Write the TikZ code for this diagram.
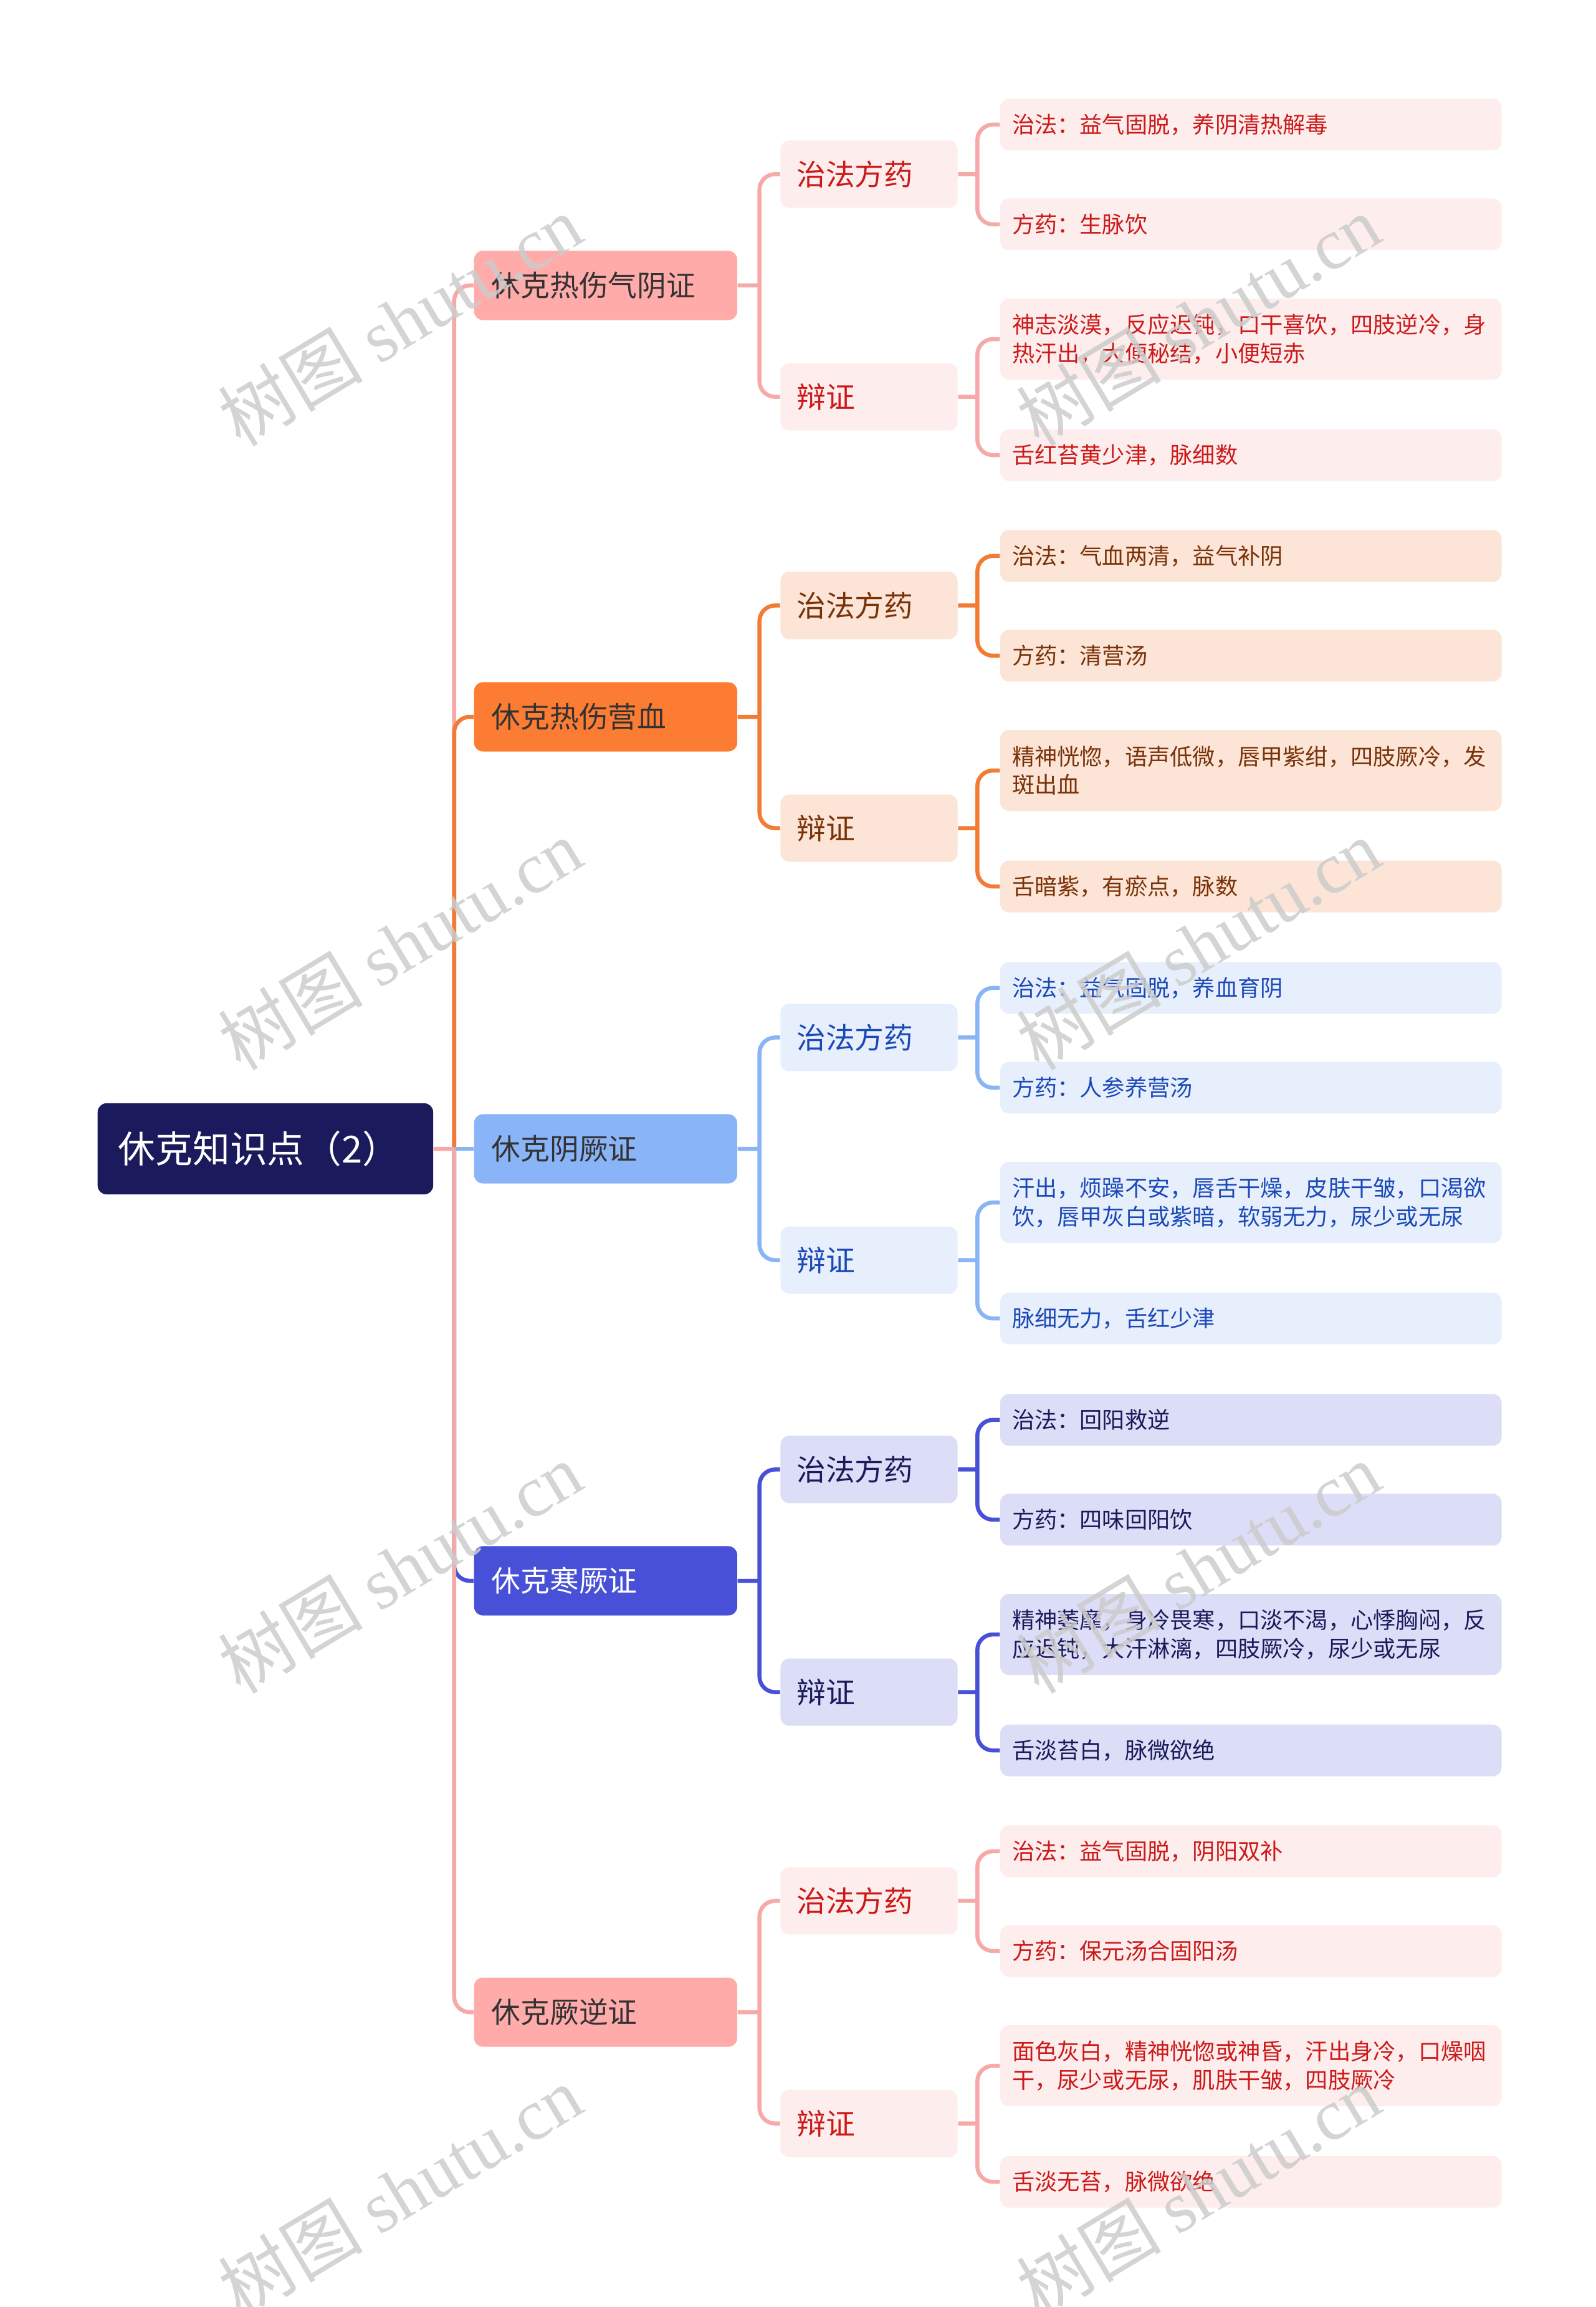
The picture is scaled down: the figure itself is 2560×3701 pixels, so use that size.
\documentclass[tikz,border=0pt]{standalone}
\usepackage{fontspec}
\setmainfont{Noto Sans CJK SC}
\newfontfamily\wmfont{Liberation Serif}
\usetikzlibrary{positioning}

\definecolor{rootfill}{HTML}{1B1A5C}
\definecolor{darktext}{HTML}{333333}
\definecolor{pinkmain}{HTML}{FFABA9}
\definecolor{pinklite}{HTML}{FDEDEC}
\definecolor{pinktext}{HTML}{CC1A1A}
\definecolor{pinkrule}{HTML}{F6AAA8}
\definecolor{orangemain}{HTML}{FD7C33}
\definecolor{orangelite}{HTML}{FCE4D6}
\definecolor{orangetext}{HTML}{7A3208}
\definecolor{orangerule}{HTML}{F27B36}
\definecolor{bluemain}{HTML}{8AB4F8}
\definecolor{bluelite}{HTML}{E8EFFC}
\definecolor{bluetext}{HTML}{1A49B8}
\definecolor{bluerule}{HTML}{8AB4F4}
\definecolor{indigomain}{HTML}{4750D6}
\definecolor{indigolite}{HTML}{DCDDF6}
\definecolor{indigotext}{HTML}{1B1B5C}
\definecolor{indigorule}{HTML}{4750D6}

\begin{document}
\begin{tikzpicture}[
    x=0.01cm, y=-0.01cm,
    topic/.style={rectangle, rounded corners=0.14cm, fill=rootfill, text=white,
                  minimum width=5.38cm, minimum height=1.46cm, text width=4.72cm,
                  inner xsep=0.33cm, inner ysep=0pt, align=left, anchor=west,
                  font=\fontsize{17}{20}\selectfont},
    branch/.style={rectangle, rounded corners=0.14cm, text=darktext,
                   minimum width=4.22cm, minimum height=1.11cm, text width=3.66cm,
                   inner xsep=0.28cm, inner ysep=0pt, align=left, anchor=west,
                   font=\fontsize{13.3}{16}\selectfont},
    sub/.style={rectangle, rounded corners=0.14cm,
                minimum width=2.84cm, minimum height=1.08cm, text width=2.32cm,
                inner xsep=0.26cm, inner ysep=0pt, align=left,
                font=\fontsize{13.3}{16}\selectfont},
    leaf/.style={rectangle, rounded corners=0.14cm,
                 minimum width=8.04cm, minimum height=0.83cm, text width=7.66cm,
                 inner xsep=0.19cm, inner ysep=0pt, align=left,
                 font=\fontsize{10.3}{13}\selectfont},
    tall/.style={minimum height=1.30cm},
    pinkset/.style={fill=pinklite, text=pinktext},
    orangeset/.style={fill=orangelite, text=orangetext},
    blueset/.style={fill=bluelite, text=bluetext},
    indigoset/.style={fill=indigolite, text=indigotext},
    link/.style={line width=0.065cm, rounded corners=0.25cm},
    watermark/.style={rotate=31, text=black!20, opacity=0.85,
                      font=\fontsize{33}{38}\selectfont},
]
    \useasboundingbox (0,0) rectangle (2560,3701);

    % Root
    \node[topic] (root) at (156,1843) {休克知识点（2）};

    % Branches
    \node[branch, fill=pinkmain] (g1) at (760,458) {休克热伤气阴证};
    \node[branch, fill=orangemain] (g2) at (760,1150) {休克热伤营血};
    \node[branch, fill=bluemain] (g3) at (760,1843) {休克阴厥证};
    \node[branch, fill=indigomain, text=white] (g4) at (760,2536) {休克寒厥证};
    \node[branch, fill=pinkmain] (g5) at (760,3228) {休克厥逆证};

    % Group 1
    \node[sub, pinkset, right=0.68cm of g1, yshift=1.785cm] (g1f) {治法方药};
    \node[sub, pinkset, right=0.68cm of g1, yshift=-1.785cm] (g1b) {辩证};
    \node[leaf, pinkset, right=0.67cm of g1f, yshift=0.795cm] (g1f1) {治法：益气固脱，养阴清热解毒};
    \node[leaf, pinkset, right=0.67cm of g1f, yshift=-0.805cm] (g1f2) {方药：生脉饮};
    \node[leaf, pinkset, tall, right=0.67cm of g1b, yshift=0.925cm] (g1b1) {神志淡漠，反应迟钝，口干喜饮，四肢逆冷，身\\热汗出，大便秘结，小便短赤};
    \node[leaf, pinkset, right=0.67cm of g1b, yshift=-0.935cm] (g1b2) {舌红苔黄少津，脉细数};

    % Group 2
    \node[sub, orangeset, right=0.68cm of g2, yshift=1.785cm] (g2f) {治法方药};
    \node[sub, orangeset, right=0.68cm of g2, yshift=-1.785cm] (g2b) {辩证};
    \node[leaf, orangeset, right=0.67cm of g2f, yshift=0.795cm] (g2f1) {治法：气血两清，益气补阴};
    \node[leaf, orangeset, right=0.67cm of g2f, yshift=-0.805cm] (g2f2) {方药：清营汤};
    \node[leaf, orangeset, tall, right=0.67cm of g2b, yshift=0.925cm] (g2b1) {精神恍惚，语声低微，唇甲紫绀，四肢厥冷，发\\斑出血};
    \node[leaf, orangeset, right=0.67cm of g2b, yshift=-0.935cm] (g2b2) {舌暗紫，有瘀点，脉数};

    % Group 3
    \node[sub, blueset, right=0.68cm of g3, yshift=1.785cm] (g3f) {治法方药};
    \node[sub, blueset, right=0.68cm of g3, yshift=-1.785cm] (g3b) {辩证};
    \node[leaf, blueset, right=0.67cm of g3f, yshift=0.795cm] (g3f1) {治法：益气固脱，养血育阴};
    \node[leaf, blueset, right=0.67cm of g3f, yshift=-0.805cm] (g3f2) {方药：人参养营汤};
    \node[leaf, blueset, tall, right=0.67cm of g3b, yshift=0.925cm] (g3b1) {汗出，烦躁不安，唇舌干燥，皮肤干皱，口渴欲\\饮，唇甲灰白或紫暗，软弱无力，尿少或无尿};
    \node[leaf, blueset, right=0.67cm of g3b, yshift=-0.935cm] (g3b2) {脉细无力，舌红少津};

    % Group 4
    \node[sub, indigoset, right=0.68cm of g4, yshift=1.785cm] (g4f) {治法方药};
    \node[sub, indigoset, right=0.68cm of g4, yshift=-1.785cm] (g4b) {辩证};
    \node[leaf, indigoset, right=0.67cm of g4f, yshift=0.795cm] (g4f1) {治法：回阳救逆};
    \node[leaf, indigoset, right=0.67cm of g4f, yshift=-0.805cm] (g4f2) {方药：四味回阳饮};
    \node[leaf, indigoset, tall, right=0.67cm of g4b, yshift=0.925cm] (g4b1) {精神萎靡，身冷畏寒，口淡不渴，心悸胸闷，反\\应迟钝，大汗淋漓，四肢厥冷，尿少或无尿};
    \node[leaf, indigoset, right=0.67cm of g4b, yshift=-0.935cm] (g4b2) {舌淡苔白，脉微欲绝};

    % Group 5
    \node[sub, pinkset, right=0.68cm of g5, yshift=1.785cm] (g5f) {治法方药};
    \node[sub, pinkset, right=0.68cm of g5, yshift=-1.785cm] (g5b) {辩证};
    \node[leaf, pinkset, right=0.67cm of g5f, yshift=0.795cm] (g5f1) {治法：益气固脱，阴阳双补};
    \node[leaf, pinkset, right=0.67cm of g5f, yshift=-0.805cm] (g5f2) {方药：保元汤合固阳汤};
    \node[leaf, pinkset, tall, right=0.67cm of g5b, yshift=0.925cm] (g5b1) {面色灰白，精神恍惚或神昏，汗出身冷，口燥咽\\干，尿少或无尿，肌肤干皱，四肢厥冷};
    \node[leaf, pinkset, right=0.67cm of g5b, yshift=-0.935cm] (g5b2) {舌淡无苔，脉微欲绝};

    % Junctions
    \coordinate (rj) at ([xshift=0.33cm]root.east);
    \foreach \g in {g1,g2,g3,g4,g5}{
        \coordinate (\g j) at ([xshift=0.35cm]\g.east);
        \coordinate (\g fj) at ([xshift=0.31cm]\g f.east);
        \coordinate (\g bj) at ([xshift=0.31cm]\g b.east);
    }

    % Root to branches
    \draw[link, pinkrule] (rj) |- (g1.west);
    \draw[link, orangerule] (rj) |- (g2.west);
    \draw[link, bluerule] (rj) -- (g3.west);
    \draw[link, indigorule] (rj) |- (g4.west);
    \draw[link, pinkrule] (root.east) -- (rj) (rj) |- (g5.west);

    % Branches to leaves
    \foreach \g/\c in {g1/pinkrule, g2/orangerule, g3/bluerule, g4/indigorule, g5/pinkrule}{
        \draw[link, \c] (\g.east) -- (\g j) (\g j) |- (\g f.west) (\g j) |- (\g b.west);
        \draw[link, \c] (\g f.east) -- (\g fj) (\g fj) |- (\g f1.west) (\g fj) |- (\g f2.west);
        \draw[link, \c] (\g b.east) -- (\g bj) (\g bj) |- (\g b1.west) (\g bj) |- (\g b2.west);
    }

    % Watermarks
    \node[watermark] (wm1) at (642,514) {树图 {\wmfont shutu.cn}};
    \node[watermark] (wm2) at (1923,514) {树图 {\wmfont shutu.cn}};
    \node[watermark] (wm3) at (642,1515) {树图 {\wmfont shutu.cn}};
    \node[watermark] (wm4) at (1923,1515) {树图 {\wmfont shutu.cn}};
    \node[watermark] (wm5) at (642,2515) {树图 {\wmfont shutu.cn}};
    \node[watermark] (wm6) at (1923,2515) {树图 {\wmfont shutu.cn}};
    \node[watermark] (wm7) at (642,3515) {树图 {\wmfont shutu.cn}};
    \node[watermark] (wm8) at (1923,3515) {树图 {\wmfont shutu.cn}};
\end{tikzpicture}
\end{document}
